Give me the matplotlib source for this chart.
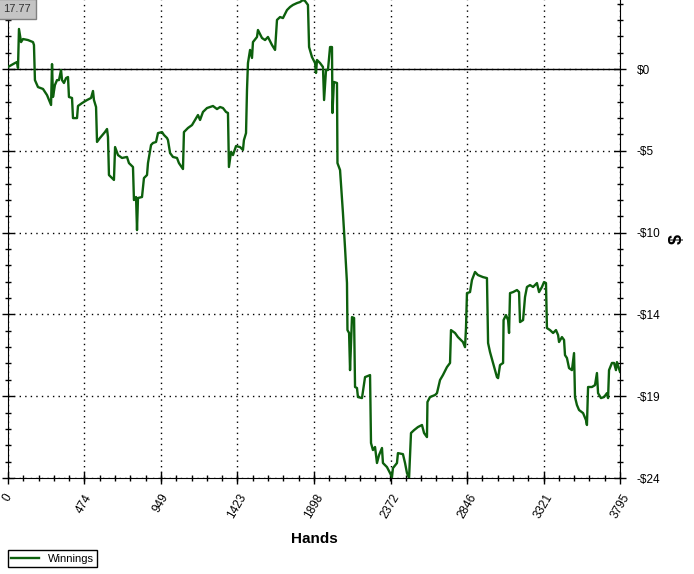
import numpy as np
import matplotlib
matplotlib.use('Agg')
import matplotlib.pyplot as plt
from matplotlib.ticker import MultipleLocator

plt.rcParams['font.family'] = ['Liberation Sans', 'DejaVu Sans']

# cumulative winnings
hands = [0, 43, 56, 62, 68, 81, 93, 124, 155, 161, 167, 186, 217, 242, 260, 267, 273, 279, 291, 304,
         316, 329, 335, 347, 360, 372, 378, 397, 403, 428, 434, 459, 490, 515, 527, 533, 546, 552, 570, 601,
         614, 620, 626, 657, 664, 682, 707, 738, 750, 775, 781, 794, 800, 806, 831, 843, 862, 868, 887, 899,
         918, 930, 955, 967, 986, 992, 1005, 1023, 1048, 1060, 1085, 1091, 1116, 1141, 1160, 1178, 1191, 1209, 1234, 1253,
         1271, 1296, 1315, 1333, 1352, 1364, 1370, 1383, 1395, 1414, 1439, 1457, 1463, 1476, 1482, 1488, 1501, 1513, 1519, 1544,
         1550, 1575, 1594, 1612, 1637, 1656, 1668, 1687, 1705, 1730, 1749, 1767, 1792, 1811, 1829, 1842, 1860, 1867, 1885, 1904,
         1910, 1916, 1935, 1953, 1960, 1972, 1984, 1997, 2009, 2012, 2021, 2040, 2043, 2059, 2077, 2090, 2102, 2105, 2115, 2121,
         2133, 2146, 2152, 2164, 2170, 2195, 2214, 2245, 2251, 2263, 2276, 2288, 2301, 2319, 2325, 2350, 2369, 2381, 2387, 2412,
         2418, 2449, 2462, 2474, 2487, 2499, 2518, 2542, 2567, 2580, 2598, 2601, 2617, 2648, 2660, 2679, 2697, 2722, 2741, 2747,
         2772, 2790, 2821, 2834, 2840, 2846, 2865, 2877, 2896, 2914, 2945, 2970, 2977, 2989, 3008, 3032, 3039, 3051, 3070, 3073,
         3088, 3101, 3107, 3113, 3132, 3156, 3169, 3175, 3194, 3206, 3218, 3237, 3256, 3280, 3293, 3311, 3324, 3336, 3342, 3361,
         3380, 3398, 3411, 3417, 3435, 3448, 3454, 3466, 3479, 3497, 3510, 3516, 3528, 3541, 3566, 3584, 3590, 3597, 3621, 3640,
         3652, 3659, 3677, 3696, 3714, 3721, 3727, 3745, 3758, 3770, 3776, 3795]
winnings = [0.12, 0.35, 0.41, 0.06, 2.35, 1.58, 1.76, 1.70, 1.58, 1.41, -0.65, -1.06, -1.17, -1.53, -1.94, -2.11, 0.29, -1.64, -0.94, -0.65,
            -0.65, -0.06, -0.65, -0.82, -0.53, -0.47, -1.64, -1.70, -2.88, -2.88, -2.17, -2.00, -1.82, -1.70, -1.29, -1.82, -2.23, -4.28, -4.05, -3.70,
            -3.52, -3.99, -6.22, -6.51, -4.58, -5.05, -5.22, -5.16, -5.52, -5.75, -7.69, -7.51, -9.45, -7.57, -7.51, -6.40, -6.22, -5.52, -4.46, -4.34,
            -4.28, -3.76, -3.70, -3.87, -4.05, -4.17, -4.93, -5.16, -5.22, -5.52, -5.87, -3.70, -3.46, -3.29, -2.99, -2.70, -2.99, -2.52, -2.29, -2.23,
            -2.17, -2.35, -2.23, -2.29, -2.52, -2.58, -5.75, -4.87, -5.05, -4.52, -4.58, -4.75, -4.17, -3.76, -1.23, 0.35, 1.12, 0.65, 1.58, 1.88,
            2.29, 1.82, 1.70, 1.88, 1.41, 1.12, 2.88, 3.05, 2.99, 3.46, 3.64, 3.76, 3.87, 3.93, 4.05, 3.99, 3.76, 1.29, 0.70, 0.35,
            -0.23, 0.53, 0.35, 0.12, -1.82, -0.06, -0.06, 1.29, 1.29, -2.58, -0.76, -0.82, -5.52, -5.93, -8.45, -10.51, -12.56, -15.32, -15.49, -17.67,
            -14.56, -14.61, -18.66, -18.72, -19.25, -19.31, -18.08, -17.96, -21.95, -22.36, -22.18, -23.12, -22.65, -22.24, -23.12, -23.36, -23.71, -23.95, -23.42, -23.12,
            -22.54, -22.60, -23.12, -23.71, -24.00, -21.36, -21.19, -21.01, -20.89, -21.36, -21.60, -19.54, -19.25, -19.13, -19.02, -18.25, -17.96, -17.49, -17.25, -15.32,
            -15.49, -15.73, -16.02, -16.32, -15.20, -13.15, -13.09, -12.38, -11.91, -12.09, -12.21, -12.27, -16.08, -16.61, -17.25, -18.08, -18.14, -17.37, -17.25, -14.73,
            -14.44, -14.73, -15.49, -13.15, -13.09, -12.97, -13.09, -14.85, -14.73, -13.38, -12.79, -12.68, -12.79, -12.56, -13.09, -12.79, -12.50, -12.56, -15.20, -15.32,
            -15.49, -15.32, -15.61, -16.02, -15.73, -15.90, -16.79, -16.96, -17.55, -17.67, -16.67, -19.25, -19.72, -20.01, -20.19, -20.60, -20.89, -18.66, -18.66, -18.55,
            -17.84, -19.02, -19.31, -19.25, -19.02, -19.31, -17.67, -17.25, -17.25, -17.67, -17.20, -17.77]

x_ticks = [0, 474, 949, 1423, 1898, 2372, 2846, 3321, 3795]
y_ticks = [-24, -19.2, -14.4, -9.6, -4.8, 0]
y_labels = ['-$24', '-$19', '-$14', '-$10', '-$5', '$0']

fig = plt.figure(figsize=(6.94, 5.74), dpi=100)
ax = fig.add_axes([8 / 694, 1 - 478 / 574, 612 / 694, 478 / 574])

ax.plot(hands, winnings, color='#0d600d', lw=1.7, label='Winnings', zorder=3)
ax.axhline(0, color='black', lw=1, zorder=2)

ax.set_xlim(0, 3795)
ax.set_ylim(-24, 4.05)
ax.set_xticks(x_ticks)
ax.set_xticklabels([str(t) for t in x_ticks], rotation=60, ha='center', va='top', fontsize=8.5)
ax.xaxis.set_minor_locator(MultipleLocator(3795 / 40))
ax.set_yticks(y_ticks)
ax.set_yticklabels(y_labels, fontsize=8.5)
ax.yaxis.set_minor_locator(MultipleLocator(0.96))
ax.yaxis.tick_right()
ax.tick_params(axis='y', which='both', left=True, right=True, direction='inout')
ax.tick_params(axis='x', which='both', direction='inout')
ax.tick_params(which='major', length=8, width=1, pad=6)
ax.tick_params(which='minor', length=5, width=1)
ax.tick_params(axis='y', which='major', pad=8)

ax.grid(True, which='major', color='black', linestyle=(0, (1, 3)), lw=1)
ax.spines['top'].set_visible(False)

ax.set_xlabel('Hands', fontsize=11, fontweight='bold', labelpad=8)
ax.yaxis.set_label_position('right')
ax.set_ylabel('$', fontsize=13, fontweight='bold', labelpad=6)

fig.legend(loc='lower left', bbox_to_anchor=(8 / 694, 1 - 567 / 574), fontsize=8,
           fancybox=False, edgecolor='black', framealpha=1, borderpad=0.3,
           handlelength=2.5, borderaxespad=0)

fig.text(3 / 694, 1 - 9 / 574, '17.77', fontsize=8, color='#333333', va='center', ha='left',
         bbox=dict(boxstyle='square,pad=0.45', facecolor='#c4c4c4', edgecolor='#808080'))

fig.savefig('out.png', dpi=100)
